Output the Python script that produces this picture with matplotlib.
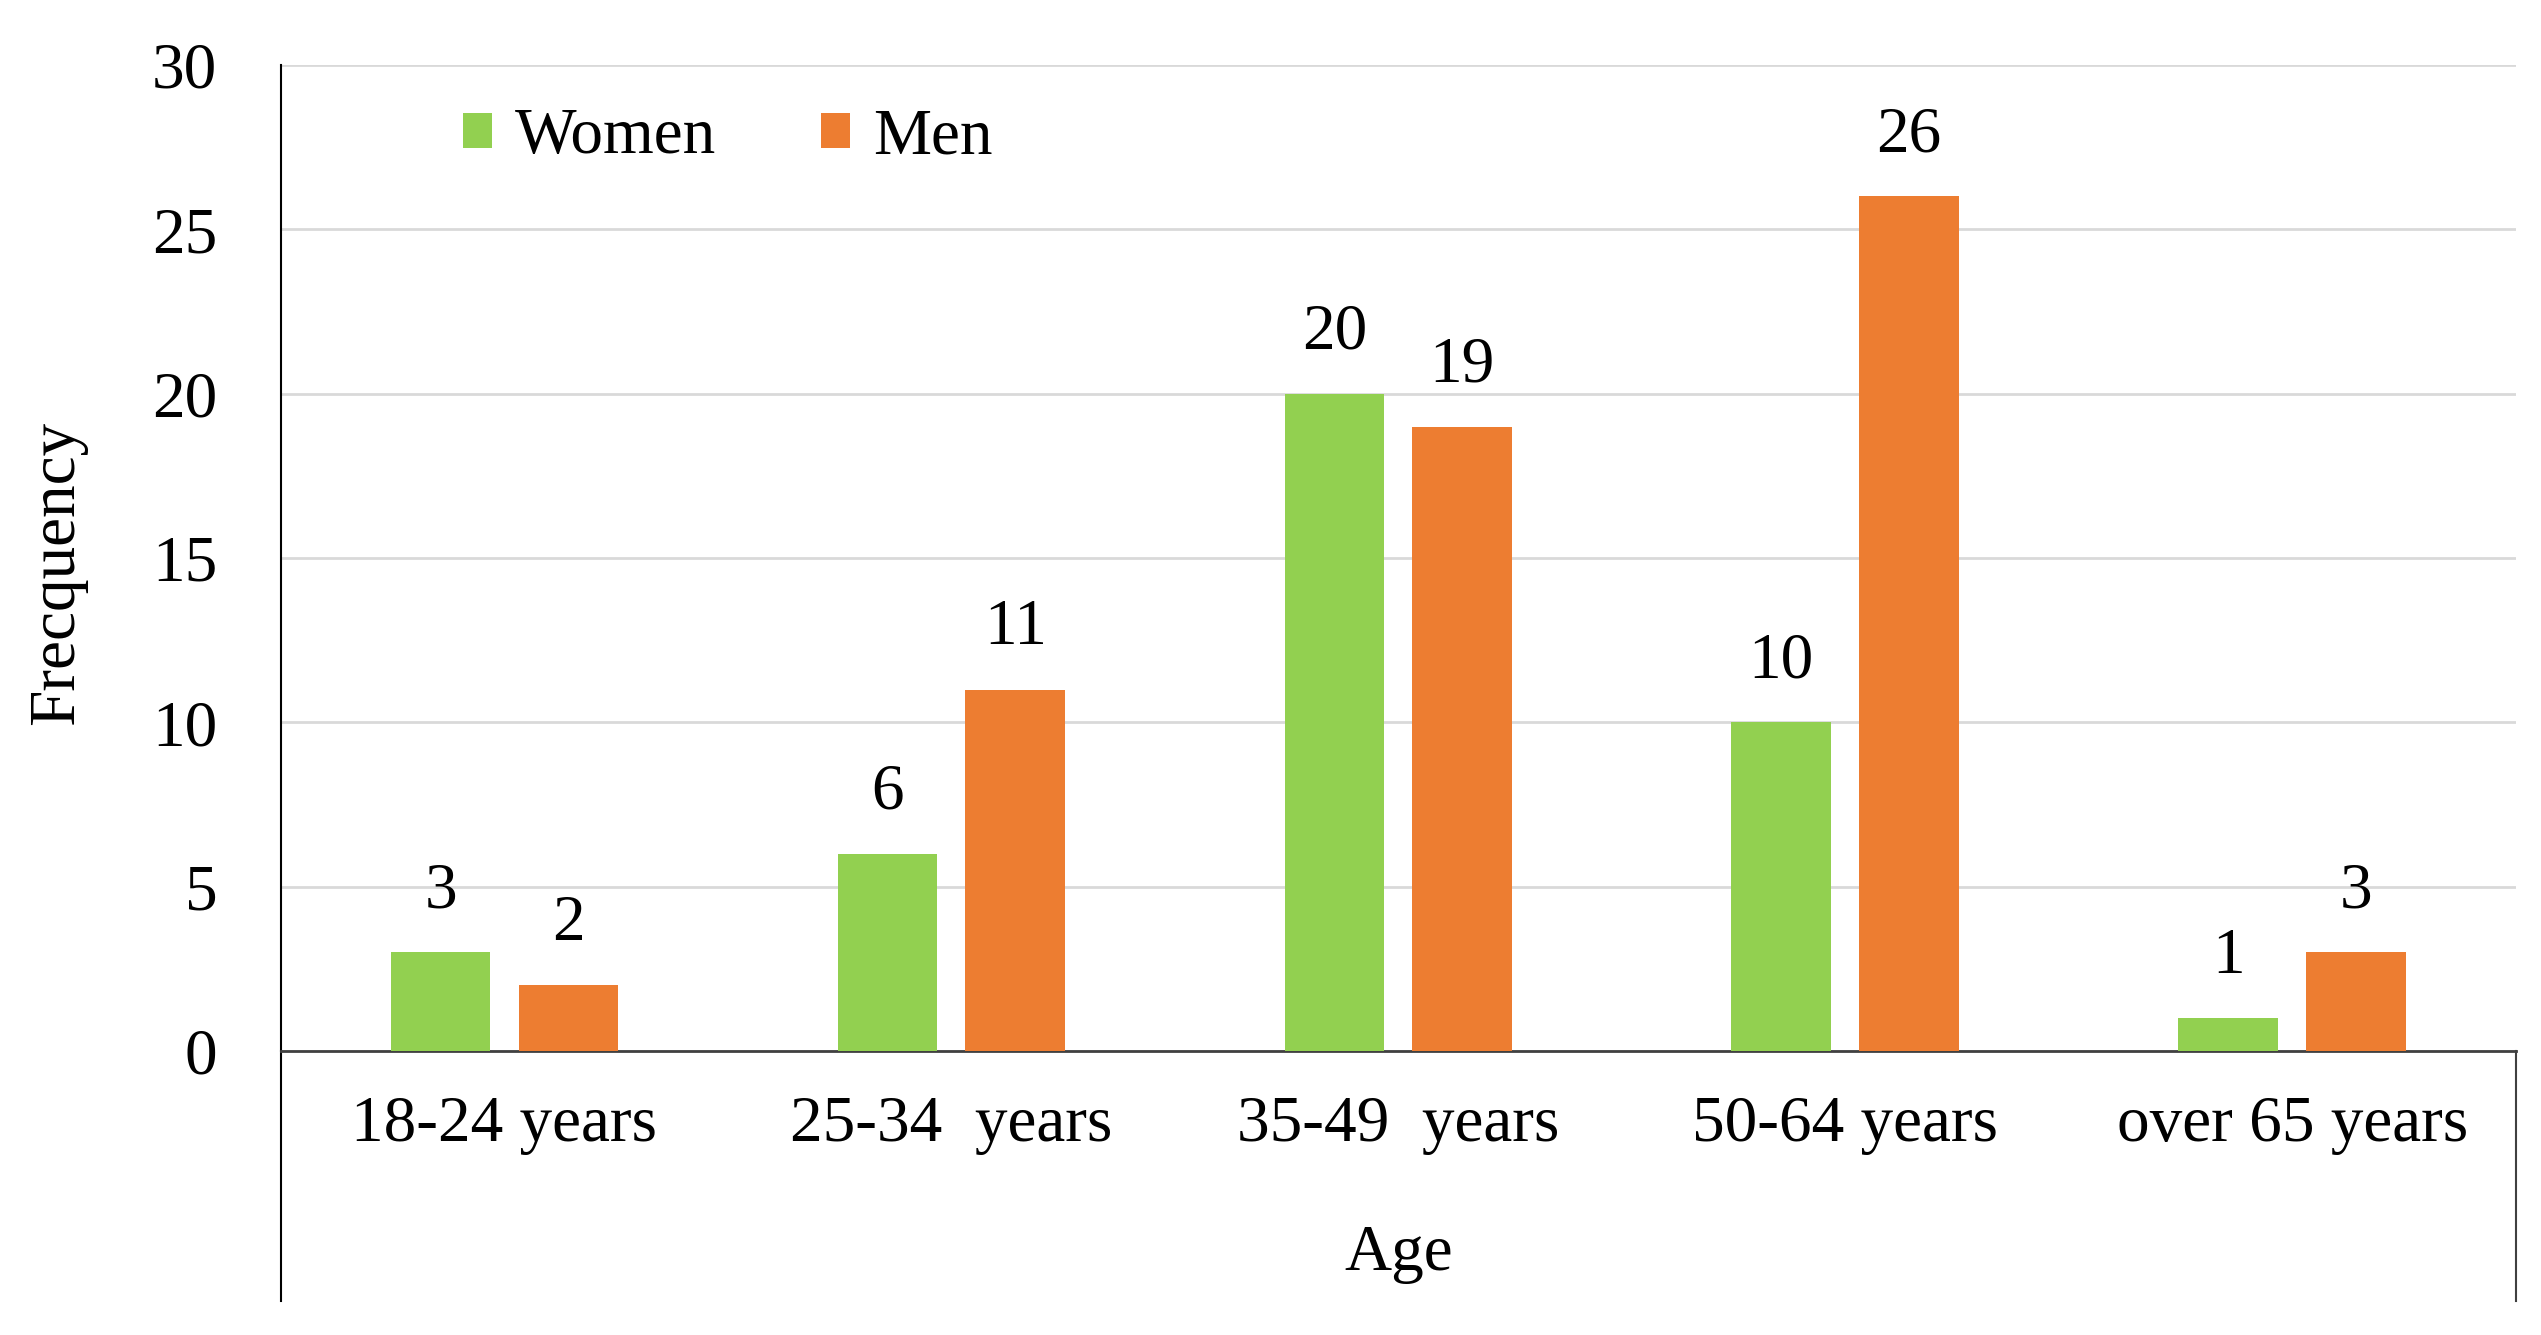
import matplotlib.pyplot as plt
import numpy as np

plt.rcParams['font.family'] = 'Liberation Serif'

categories = ['18-24 years', '25-34  years', '35-49  years', '50-64 years', 'over 65 years']
women = [3, 6, 20, 10, 1]
men = [2, 11, 19, 26, 3]

green = '#92D050'
orange = '#ED7D31'
fs = 47

fig = plt.figure(figsize=(25.41, 13.35), dpi=100)
ax = fig.add_axes([0.1106, 0.2127, 0.8794, 0.7386])

x = np.arange(len(categories))
w = 0.223
off = 0.143
b1 = ax.bar(x - off, women, w, color=green, label='Women', zorder=3)
b2 = ax.bar(x + off, men, w, color=orange, label='Men', zorder=3)

for bars, vals in ((b1, women), (b2, men)):
    for r, v in zip(bars, vals):
        ax.annotate(str(v), (r.get_x() + r.get_width() / 2, v),
                    xytext=(0, 44), textcoords='offset points',
                    ha='center', va='center', fontsize=fs)

ax.set_xlim(-0.5, len(categories) - 0.5)
ax.set_ylim(0, 30)
ax.set_yticks(range(0, 31, 5))
ax.yaxis.grid(True, color='#D9D9D9', linewidth=2, zorder=0)
ax.set_axisbelow(True)

ax.set_xticks(x)
ax.set_xticklabels(categories)
ax.tick_params(axis='x', length=0, pad=32, labelsize=fs)
ax.tick_params(axis='y', length=0, pad=46, labelsize=fs)

for s in ['top', 'right']:
    ax.spines[s].set_visible(False)
ax.spines['left'].set_linewidth(1.5)
ax.spines['bottom'].set_linewidth(2)
ax.spines['bottom'].set_color('#404040')

# Excel-style outline around the category area
ax.plot([0, 0], [0, -0.2535], transform=ax.transAxes, color='black',
        linewidth=1.5, clip_on=False)
ax.plot([1, 1], [0, -0.2535], transform=ax.transAxes, color='#404040',
        linewidth=1.5, clip_on=False)

ax.set_xlabel('Age', fontsize=fs)
ax.set_ylabel('Frecquency', fontsize=fs)
ax.yaxis.set_label_coords(-0.087, 0.485)
ax.xaxis.set_label_coords(0.5, -0.176)

ax.legend(loc='upper left', bbox_to_anchor=(0.055, 1.016), ncol=2, frameon=False,
          fontsize=fs, handlelength=0.45, handleheight=0.45, handletextpad=0.35,
          columnspacing=1.6)

plt.savefig('out.png')
